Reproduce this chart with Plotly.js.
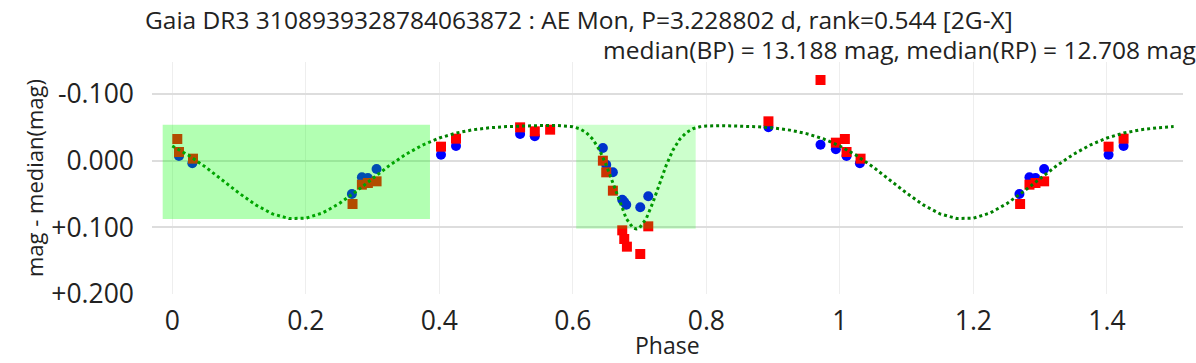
<!DOCTYPE html>
<html>
<head>
<meta charset="utf-8">
<script src="https://cdn.plot.ly/plotly-3.0.1.min.js"></script>
<style>
  body { margin: 0; }
  #plot1 { width: 1196px; height: 363px; }
</style>
</head>
<body>
<div id="plot1"></div>
<script>
// phase-folded light curve

// BP points (blue)
let bpPhase = [0.010, 0.030, 0.269, 0.284, 0.293, 0.306, 0.4025, 0.425, 0.521, 0.543,
               0.645, 0.650, 0.660, 0.674, 0.677, 0.680, 0.701, 0.713, 0.893, 0.971, 0.994];
let bpMag = [-0.007, 0.004, 0.050, 0.025, 0.026, 0.0125, -0.009, -0.022, -0.040, -0.0365,
             -0.019, 0.006, 0.0175, 0.0585, 0.062, 0.066, 0.070, 0.0535, -0.050, -0.024, -0.017];

// RP points (red)
let rpPhase = [0.0075, 0.010, 0.031, 0.270, 0.284, 0.293, 0.306, 0.4025, 0.425, 0.521, 0.543, 0.566,
               0.645, 0.650, 0.660, 0.674, 0.677, 0.681, 0.701, 0.713, 0.893, 0.971, 0.994];
let rpMag = [-0.0325, -0.013, -0.003, 0.065, 0.036, 0.0335, 0.031, -0.021, -0.033, -0.050, -0.044, -0.0465,
             0.000, 0.0175, 0.045, 0.1045, 0.1175, 0.129, 0.140, 0.0985, -0.059, -0.121, -0.027];

// model curve
let modelPhase = [0, 0.025, 0.05, 0.075, 0.1, 0.125, 0.15, 0.175, 0.2, 0.225, 0.25, 0.275, 0.3,
                  0.325, 0.35, 0.375, 0.4, 0.425, 0.45, 0.475, 0.5, 0.525, 0.55, 0.575, 0.6,
                  0.61, 0.62, 0.63, 0.64, 0.65, 0.66, 0.67, 0.68, 0.69, 0.695, 0.70, 0.71, 0.72,
                  0.73, 0.74, 0.75, 0.76, 0.77, 0.78, 0.79, 0.80,
                  0.825, 0.85, 0.875, 0.9, 0.925, 0.95, 0.975];
let modelMag = [-0.0220, -0.0077, 0.0097, 0.0290, 0.0487, 0.0664, 0.0798, 0.0868, 0.0863, 0.0785, 0.0645, 0.0464, 0.0267,
                0.0074, -0.0096, -0.0235, -0.0340, -0.0414, -0.0463, -0.0493, -0.0511, -0.0521, -0.0526, -0.0528, -0.0508,
                -0.0479, -0.0422, -0.0320, -0.0159, 0.0066, 0.0340, 0.0626, 0.0868, 0.1007, 0.1025, 0.1007, 0.0868, 0.0626,
                0.0340, 0.0066, -0.0159, -0.0320, -0.0422, -0.0479, -0.0508, -0.0520,
                -0.0525, -0.0520, -0.0509, -0.0491, -0.0458, -0.0406, -0.0329];

let yTickVals = [-0.1, 0, 0.1, 0.2];
let yTickText = ["-0.100", "0.000", "+0.100", "+0.200"];

// show 1.5 cycles: phases below 0.5 are drawn again one cycle later
function unfold(ph, mag) {
    let x = ph.slice(), y = mag.slice();
    for (let i = 0; i < ph.length; i++) {
        if (ph[i] <= 0.5) { x.push(ph[i] + 1); y.push(mag[i]); }
    }
    return [x, y];
}

let bp = unfold(bpPhase, bpMag);
let rp = unfold(rpPhase, rpMag);
let model = unfold(modelPhase, modelMag);

let traceBP = {
    x: bp[0], y: bp[1], mode: "markers", type: "scatter",
    marker: {color: "#0000ff", size: 10, symbol: "circle"}
};
let traceRP = {
    x: rp[0], y: rp[1], mode: "markers", type: "scatter",
    marker: {color: "#ff0000", size: 10, symbol: "square"}
};
let traceModel = {
    x: model[0], y: model[1], mode: "lines", type: "scatter",
    line: {color: "green", dash: "dot", width: 3}
};

var data = [traceBP, traceRP, traceModel];

var layout = {
    width: 1196, height: 363,
    margin: {l: 152, r: 13, t: 62, b: 69},
    showlegend: false,
    paper_bgcolor: "white", plot_bgcolor: "white",
    font: {family: "Open Sans, sans-serif", color: "#222"},
    title: {
        text: "Gaia DR3 3108939328784063872 : AE Mon, P=3.228802 d, rank=0.544 [2G-X]",
        font: {size: 24.5, color: "#222"},
        x: 0.484, xanchor: "center", y: 0.945, yanchor: "middle"
    },
    annotations: [
        {
            text: "median(BP) = 13.188 mag, median(RP) = 12.708 mag",
            xref: "paper", yref: "paper", x: 1.0146, y: 1.052,
            xanchor: "right", yanchor: "middle", showarrow: false,
            font: {size: 24.5, color: "#222"}
        },
        // x axis title as an annotation, low at the bottom edge
        {
            text: "Phase",
            xref: "paper", yref: "paper", x: 0.5, y: -0.22,
            xanchor: "center", yanchor: "middle", showarrow: false,
            font: {size: 23, color: "#222"}
        }
    ],
    xaxis: {
        range: [-0.0304, 1.514],
        dtick: 0.2, tick0: 0,
        gridcolor: "#eeeeee", gridwidth: 1,
        zeroline: false, showline: false,
        tickfont: {size: 26.5},
        ticklabelstandoff: 8
    },
    yaxis: {
        range: [0.2, -0.148],
        tickvals: yTickVals, ticktext: yTickText,
        gridcolor: "#dddddd", gridwidth: 2,
        zeroline: false, showline: false,
        tickfont: {size: 26.5},
        ticklabelstandoff: 17,
        title: {text: "mag - median(mag)", font: {size: 22}, standoff: 1}
    },
    shapes: [
        {type: "rect", xref: "x", yref: "y", x0: -0.0144, x1: 0.386, y0: -0.054, y1: 0.0875,
         fillcolor: "lime", opacity: 0.3, line: {width: 0}, layer: "above"},
        {type: "rect", xref: "x", yref: "y", x0: 0.605, x1: 0.784, y0: -0.054, y1: 0.102,
         fillcolor: "lime", opacity: 0.2, line: {width: 0}, layer: "above"}
    ]
};

Plotly.newPlot("plot1", data, layout, {displayModeBar: false});
</script>
</body>
</html>
